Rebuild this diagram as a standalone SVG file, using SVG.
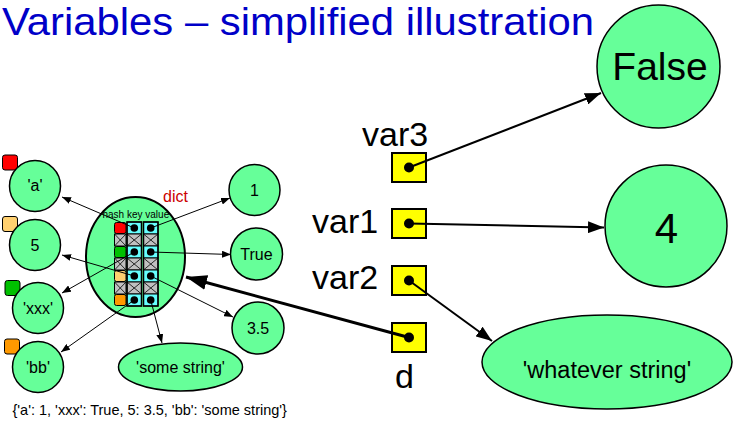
<svg xmlns="http://www.w3.org/2000/svg" width="734" height="422" viewBox="0 0 734 422">
<style>
text{font-family:"Liberation Sans",Arial,sans-serif;fill:#000}
.node{fill:#66ff99;stroke:#000;stroke-width:1.5}
.t16{font-size:16px;text-anchor:middle}
.var{fill:#ffff00;stroke:#000;stroke-width:2}
.lbl{font-size:34px}
.gray{fill:#c0c0c0;stroke:#000;stroke-width:1}
.cyan{fill:#66ffff;stroke:#000;stroke-width:1}
.x{stroke:#000;stroke-width:0.8}
.conn{fill:none;stroke:#000}
.thin{stroke-width:1}
.mid{stroke-width:2}
.thick{stroke-width:3}
.tag{stroke:#000;stroke-width:1}
</style>
<defs>
<marker id="sm" markerUnits="userSpaceOnUse" viewBox="0 0 9 7" refX="9" refY="3.5" markerWidth="9" markerHeight="7" orient="auto"><path d="M0,0 L9,3.5 L0,7 z" fill="#000"/></marker>
<marker id="md" markerUnits="userSpaceOnUse" viewBox="0 0 16 12" refX="16" refY="6" markerWidth="16" markerHeight="12" orient="auto"><path d="M0,0 L16,6 L0,12 z" fill="#000"/></marker>
<marker id="lg" markerUnits="userSpaceOnUse" viewBox="0 0 21 15" refX="21" refY="7.5" markerWidth="21" markerHeight="15" orient="auto"><path d="M0,0 L21,7.5 L0,15 z" fill="#000"/></marker>
</defs>

<text x="2" y="34.5" font-size="38" style="fill:#0000c8" textLength="592" lengthAdjust="spacingAndGlyphs">Variables – simplified illustration</text>

<g id="node-false"><circle class="node" cx="658.5" cy="66.5" r="61.5"/><text x="660" y="80" font-size="39" text-anchor="middle">False</text></g>
<g id="node-4"><circle class="node" cx="666" cy="226" r="61"/><text x="666.5" y="243" font-size="42" text-anchor="middle">4</text></g>
<g id="node-whatever"><ellipse class="node" cx="607" cy="362" rx="125" ry="47"/><text x="607" y="378" font-size="23.5" text-anchor="middle">'whatever string'</text></g>

<g id="var3"><text class="lbl" x="362" y="146">var3</text><rect class="var" x="392" y="153" width="34" height="29"/><circle cx="409" cy="167.5" r="5"/></g>
<g id="var1"><text class="lbl" x="312" y="233">var1</text><rect class="var" x="392" y="209" width="34" height="29"/><circle cx="409" cy="223.5" r="5"/></g>
<g id="var2"><text class="lbl" x="312" y="289">var2</text><rect class="var" x="392" y="266" width="34" height="29"/><circle cx="409" cy="280.5" r="5"/></g>
<g id="var-d"><rect class="var" x="392" y="323" width="34" height="29"/><circle cx="409" cy="337.5" r="5"/><text class="lbl" x="395" y="388">d</text></g>

<g id="key-a"><rect class="tag" x="2.5" y="155" width="15" height="15" rx="2.5" fill="#ff0000"/><circle class="node" cx="35" cy="186" r="25.5"/><text class="t16" x="35" y="191">'a'</text></g>
<g id="key-5"><rect class="tag" x="2.5" y="216.5" width="15" height="15" rx="2.5" fill="#ffd070"/><circle class="node" cx="35" cy="245" r="25.5"/><text class="t16" x="35" y="251">5</text></g>
<g id="key-xxx"><rect class="tag" x="5" y="280.5" width="15" height="15" rx="2.5" fill="#00c000"/><circle class="node" cx="38" cy="308" r="25.5"/><text class="t16" x="38" y="314">'xxx'</text></g>
<g id="key-bb"><rect class="tag" x="4.5" y="339" width="15" height="15" rx="2.5" fill="#ff9900"/><circle class="node" cx="38" cy="367" r="25.5"/><text class="t16" x="38" y="373">'bb'</text></g>

<g id="val-1"><circle class="node" cx="254.5" cy="190" r="25.5"/><text class="t16" x="254.5" y="196">1</text></g>
<g id="val-true"><circle class="node" cx="256.5" cy="254" r="26"/><text class="t16" x="256.5" y="260">True</text></g>
<g id="val-35"><circle class="node" cx="258" cy="328" r="26"/><text class="t16" x="258" y="334">3.5</text></g>
<g id="val-some"><ellipse class="node" cx="180.5" cy="367" rx="62" ry="24"/><text class="t16" x="180.5" y="373">'some string'</text></g>

<g id="dict">
<ellipse cx="135.5" cy="257" rx="49.5" ry="60" fill="#66ff99" stroke="#000" stroke-width="2"/>
<text x="163" y="202" font-size="16" style="fill:#cc0000">dict</text>
<text x="102.5" y="218" font-size="10">hash key value</text>
<rect class="tag" x="114.5" y="222.5" width="11.5" height="11" rx="2" fill="#ff0000"/>
<rect class="gray" x="114.5" y="234" width="11.5" height="12"/>
<rect class="tag" x="114.5" y="246.5" width="11.5" height="11" rx="2" fill="#00c000"/>
<rect class="gray" x="114.5" y="258" width="11.5" height="12"/>
<rect class="tag" x="114.5" y="270.5" width="11.5" height="11" rx="2" fill="#ffd070"/>
<rect class="gray" x="114.5" y="282" width="11.5" height="12"/>
<rect class="tag" x="114.5" y="294.5" width="11.5" height="11" rx="2" fill="#ff9900"/>
<path class="x" d="M114.5,234 l11.5,12 M126,234 l-11.5,12 M114.5,258 l11.5,12 M126,258 l-11.5,12 M114.5,282 l11.5,12 M126,282 l-11.5,12"/>
<rect class="cyan" x="127" y="222" width="14.5" height="12"/>
<rect class="gray" x="127" y="234" width="14.5" height="12"/>
<rect class="cyan" x="127" y="246" width="14.5" height="12"/>
<rect class="gray" x="127" y="258" width="14.5" height="12"/>
<rect class="cyan" x="127" y="270" width="14.5" height="12"/>
<rect class="gray" x="127" y="282" width="14.5" height="12"/>
<rect class="cyan" x="127" y="294" width="14.5" height="12"/>
<rect class="cyan" x="143.5" y="222" width="14.5" height="12"/>
<rect class="gray" x="143.5" y="234" width="14.5" height="12"/>
<rect class="cyan" x="143.5" y="246" width="14.5" height="12"/>
<rect class="gray" x="143.5" y="258" width="14.5" height="12"/>
<rect class="cyan" x="143.5" y="270" width="14.5" height="12"/>
<rect class="gray" x="143.5" y="282" width="14.5" height="12"/>
<rect class="cyan" x="143.5" y="294" width="14.5" height="12"/>
<path class="x" d="M127,234 l14.5,12 M141.5,234 l-14.5,12 M127,258 l14.5,12 M141.5,258 l-14.5,12 M127,282 l14.5,12 M141.5,282 l-14.5,12 M143.5,234 l14.5,12 M158,234 l-14.5,12 M143.5,258 l14.5,12 M158,258 l-14.5,12 M143.5,282 l14.5,12 M158,282 l-14.5,12"/>
<rect x="127" y="222" width="14.5" height="84" fill="none" stroke="#000" stroke-width="1.5"/>
<rect x="143.5" y="222" width="14.5" height="84" fill="none" stroke="#000" stroke-width="1.5"/>
<circle cx="134.3" cy="228" r="3.8"/><circle cx="134.3" cy="252" r="3.8"/><circle cx="134.3" cy="276" r="3.8"/><circle cx="134.3" cy="300" r="3.8"/>
<circle cx="150.7" cy="228" r="3.8"/><circle cx="150.7" cy="252" r="3.8"/><circle cx="150.7" cy="276" r="3.8"/><circle cx="150.7" cy="300" r="3.8"/>
</g>

<g id="connectors">
<line class="conn thin" x1="134.3" y1="228" x2="62" y2="197" marker-end="url(#sm)"/>
<line class="conn thin" x1="134.3" y1="276" x2="62" y2="255" marker-end="url(#sm)"/>
<line class="conn thin" x1="134.3" y1="252" x2="62" y2="293" marker-end="url(#sm)"/>
<line class="conn thin" x1="134.3" y1="300" x2="61" y2="352" marker-end="url(#sm)"/>
<line class="conn thin" x1="150.7" y1="228" x2="230" y2="198" marker-end="url(#sm)"/>
<line class="conn thin" x1="150.7" y1="252" x2="231" y2="254.5" marker-end="url(#sm)"/>
<line class="conn thin" x1="150.7" y1="276" x2="233" y2="317" marker-end="url(#sm)"/>
<line class="conn thin" x1="150.7" y1="300" x2="162" y2="343" marker-end="url(#sm)"/>
<line class="conn mid" x1="409" y1="167.5" x2="601" y2="93" marker-end="url(#md)"/>
<line class="conn mid" x1="409" y1="223.5" x2="604" y2="227.5" marker-end="url(#md)"/>
<line class="conn mid" x1="409" y1="280.5" x2="492" y2="341" marker-end="url(#md)"/>
<line class="conn thick" x1="409" y1="337.5" x2="186" y2="277" marker-end="url(#lg)"/>
</g>

<text x="12.5" y="415" font-size="14.5">{'a': 1, 'xxx': True, 5: 3.5, 'bb': 'some string'}</text>
</svg>
